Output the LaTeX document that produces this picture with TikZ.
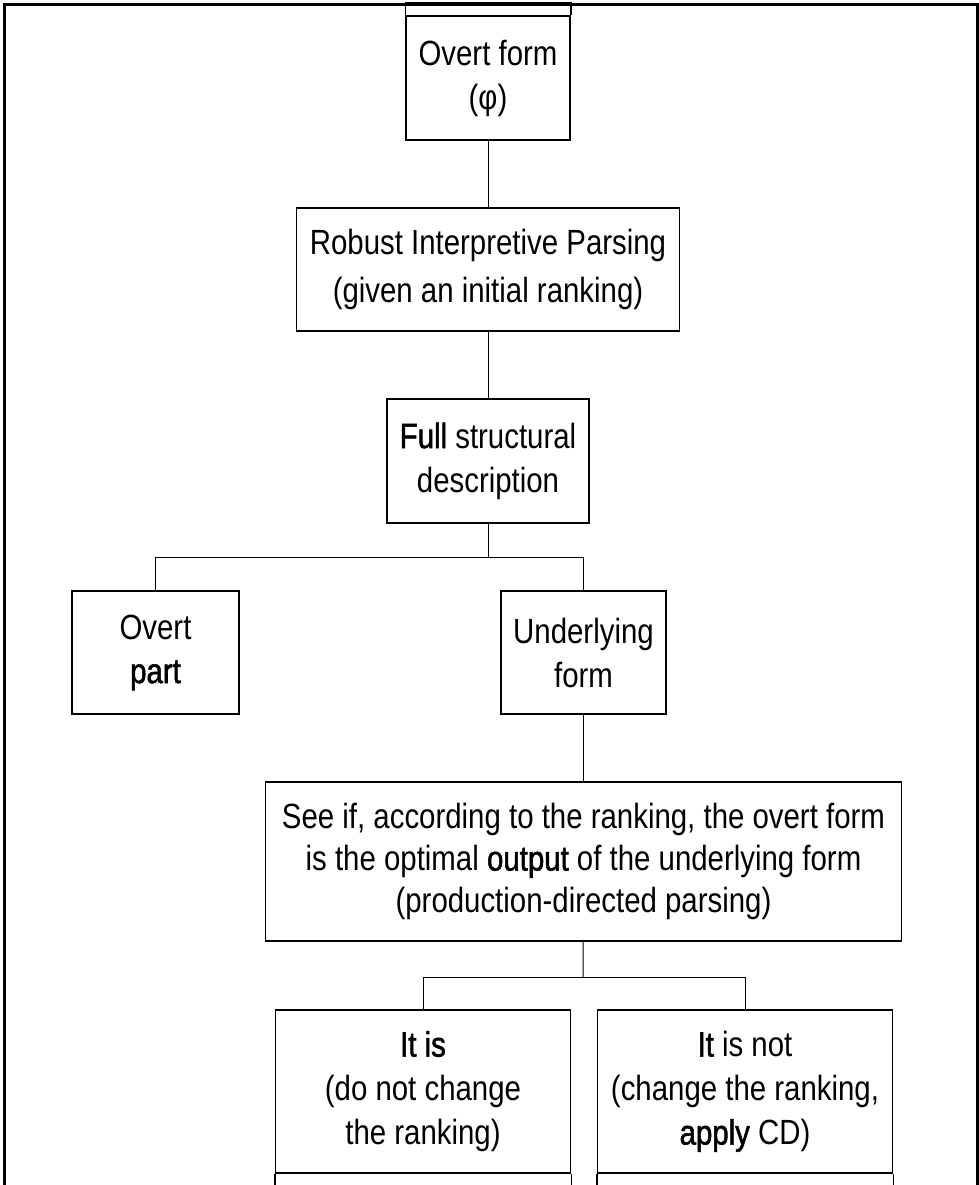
\documentclass[tikz,border=0pt]{standalone}
\usepackage{fontspec}
\setmainfont[FakeStretch=0.84]{Liberation Sans}
\newfontfamily\heavy[FakeStretch=0.84,FakeBold=1.5]{Liberation Sans}
\usepackage{tikz}
\usetikzlibrary{positioning}

\begin{document}
\begin{tikzpicture}[x=0.5pt,y=-0.5pt,on grid,
        font=\fontsize{17.5pt}{22pt}\selectfont]
        \tikzstyle{box}=[draw,line width=0.75pt,align=center,inner sep=0pt]
        \tikzstyle{link}=[line width=0.5pt]
        \useasboundingbox (0,0) rectangle (979,1185);
        % outer frame, open at the bottom
        \draw[line width=1.5pt] (4,1200) -- (4,4) -- (977,4) -- (977,1200);
        \node[box,minimum width=82pt,minimum height=62pt] (Of) at (488,78) {Overt form\\(φ)};
        \node[box,minimum width=191.5pt,minimum height=61.5pt,font=\fontsize{17.5pt}{24pt}\selectfont] (Rip) [below=95.75pt of Of] {Robust Interpretive Parsing\\(given an initial ranking)};
        \node[box,minimum width=101pt,minimum height=62pt] (Fsd) [below=95.75pt of Rip] {{\heavy Full} structural\\description};
        \node[box,minimum width=82.5pt,minimum height=61.5pt] (Uf) [below right=95.75pt and 47.75pt of Fsd] {Underlying\\form};
        \node[box,minimum width=83.5pt,minimum height=61.5pt] (Op) [left=214pt of Uf] {Overt\\{\heavy part}};
        \node[box,minimum width=318pt,minimum height=79.5pt,font=\fontsize{17.5pt}{21pt}\selectfont] (Chk) [below=104.5pt of Uf] {See if, according to the ranking, the overt form\\is the optimal {\heavy output} of the underlying form\\(production-directed parsing)};
        \node[box,minimum width=147.5pt,minimum height=81.5pt] (Yes) [below left=115pt and 80.25pt of Chk] {{\heavy It is}\\(do not change\\the ranking)};
        \node[box,minimum width=147.5pt,minimum height=81.5pt] (No) [right=161pt of Yes] {{\heavy It} is not\\(change the ranking,\\{\heavy apply} CD)};
        % top of the first box runs into the frame
        \draw[box] (Of.north west) -- ++(0,-13) -| (Of.north east);
        % lower boxes go on past the edge
        \draw[box] (Yes.south west) -- ++(0,30) (Yes.south east) -- ++(0,30);
        \draw[box] (No.south west) -- ++(0,30) (No.south east) -- ++(0,30);
        \coordinate (Fork1) at (488,557);
        \coordinate (Fork2) at (583,977);
        \path[link] (Of) edge (Rip) (Rip) edge (Fsd) (Fsd) edge (Fork1) (Uf) edge (Chk) (Chk) edge (Fork2);
        \draw[link] (Op.north) |- (Fork1) -| (Uf.north);
        \draw[link] (Yes.north) |- (Fork2) -| (No.north);
    \end{tikzpicture}
\end{document}
